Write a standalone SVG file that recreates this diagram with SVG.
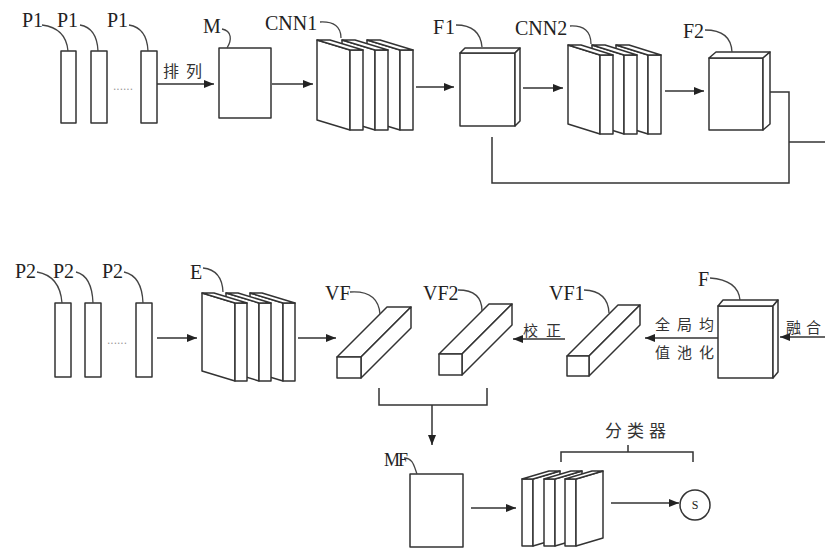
<svg xmlns="http://www.w3.org/2000/svg" width="825" height="551" viewBox="0 0 825 551">
<defs>
<marker id="ah" markerWidth="10" markerHeight="8" refX="10" refY="4" orient="auto" markerUnits="userSpaceOnUse">
<path d="M0,0 L10,4 L0,8 z" fill="#222"/>
</marker>
<style>
.s{fill:#fff;stroke:#333;stroke-width:1.5;stroke-linejoin:round}
.c{fill:none;stroke:#333;stroke-width:1.5}
.a{fill:none;stroke:#333;stroke-width:1.5;marker-end:url(#ah)}
.ld{fill:none;stroke:#444;stroke-width:1.3}
.t{font-family:"Liberation Serif","DejaVu Serif",serif;font-size:20px;fill:#222}
.z{font-family:"Liberation Serif","Noto Sans CJK SC",serif;font-size:15px;fill:#333}
.d{font-family:"Liberation Sans",sans-serif;font-size:12px;fill:#999}
</style>
</defs>
<rect width="825" height="551" fill="#fff"/>

<g id="connectors">
<path class="a" d="M157,84 H214"/>
<path class="a" d="M272,84 H313"/>
<path class="a" d="M416,87 H454"/>
<path class="a" d="M523,88 H563"/>
<path class="a" d="M665,91 H704"/>
<path class="c" d="M770,92 H789 V183 H492 V137"/>
<path class="c" d="M789,142 H825"/>
<path class="a" d="M157,338 H197"/>
<path class="a" d="M298,338 H336"/>
<path class="a" d="M565,339 H513"/>
<path class="a" d="M718,338 H645"/>
<path class="a" d="M825,337 H780"/>
<path class="c" d="M379,388 V405 H487 V388"/>
<path class="a" d="M432,405 V445"/>
<path class="a" d="M471,508 H516"/>
<path class="a" d="M611,503 H679"/>
<path class="c" d="M561,462 V452 H693 V462 M628,452 V445"/>
</g>

<g id="P1a"><rect class="s" x="61" y="51" width="15" height="72"/><text class="t" x="22" y="27">P1</text><path class="ld" d="M42,25 Q66,28 68,51"/></g>
<g id="P1b"><rect class="s" x="91" y="51" width="16" height="72"/><text class="t" x="57" y="27">P1</text><path class="ld" d="M80,25 Q97,28 98,51"/></g>
<g id="P1c"><rect class="s" x="141" y="51" width="16" height="72"/><text class="t" x="107" y="27">P1</text><path class="ld" d="M129,25 Q147,28 148,51"/></g>
<text class="d" x="113" y="90">......</text>
<text class="z" x="163" y="77" style="font-size:16px;letter-spacing:7px">排列</text>

<g id="M"><rect class="s" x="219" y="48" width="52" height="70"/><text class="t" x="203" y="33">M</text><path class="ld" d="M222,29 C232,31 232,40 227,48"/></g>

<g id="CNN1">
<polygon class="s" points="367,40 400,50 400,130 367,120"/><rect class="s" x="400" y="50" width="13" height="80"/><polygon class="s" points="367,40 380,40 413,50 400,50"/>
<polygon class="s" points="342,40 375,50 375,130 342,120"/><rect class="s" x="375" y="50" width="13" height="80"/><polygon class="s" points="342,40 355,40 388,50 375,50"/>
<polygon class="s" points="317,40 350,50 350,130 317,120"/><rect class="s" x="350" y="50" width="13" height="80"/><polygon class="s" points="317,40 330,40 363,50 350,50"/>
<text class="t" x="265" y="30">CNN1</text><path class="ld" d="M320,22 Q341,21 341,38"/>
</g>

<g id="F1">
<rect class="s" x="460" y="53" width="55" height="73"/><polygon class="s" points="460,53 465,48 520,48 515,53"/><polygon class="s" points="515,53 520,48 520,121 515,126"/>
<text class="t" x="433" y="34" style="letter-spacing:1px">F1</text><path class="ld" d="M456,25 Q480,25 482,47"/>
</g>

<g id="CNN2">
<polygon class="s" points="616,45 648,55 648,134 616,124"/><rect class="s" x="648" y="55" width="13" height="79"/><polygon class="s" points="616,45 629,45 661,55 648,55"/>
<polygon class="s" points="592,45 624,55 624,134 592,124"/><rect class="s" x="624" y="55" width="13" height="79"/><polygon class="s" points="592,45 605,45 637,55 624,55"/>
<polygon class="s" points="568,45 600,55 600,134 568,124"/><rect class="s" x="600" y="55" width="13" height="79"/><polygon class="s" points="568,45 581,45 613,55 600,55"/>
<text class="t" x="515" y="35">CNN2</text><path class="ld" d="M570,26 Q591,25 591,44"/>
</g>

<g id="F2">
<rect class="s" x="709" y="58" width="54" height="72"/><polygon class="s" points="709,58 716,52 770,52 763,58"/><polygon class="s" points="763,58 770,52 770,124 763,130"/>
<text class="t" x="683" y="38">F2</text><path class="ld" d="M705,30 Q731,30 732,52"/>
</g>

<g id="P2a"><rect class="s" x="55" y="303" width="16" height="74"/><text class="t" x="15" y="278">P2</text><path class="ld" d="M37,272 Q60,276 62,303"/></g>
<g id="P2b"><rect class="s" x="85" y="303" width="16" height="74"/><text class="t" x="53" y="278">P2</text><path class="ld" d="M76,272 Q92,276 93,303"/></g>
<g id="P2c"><rect class="s" x="136" y="303" width="16" height="74"/><text class="t" x="102" y="278">P2</text><path class="ld" d="M124,272 Q142,276 143,303"/></g>
<text class="d" x="107" y="344">......</text>

<g id="E">
<polygon class="s" points="250,293 283,303 283,381 250,371"/><rect class="s" x="283" y="303" width="12" height="78"/><polygon class="s" points="250,293 262,293 295,303 283,303"/>
<polygon class="s" points="226,293 259,303 259,381 226,371"/><rect class="s" x="259" y="303" width="12" height="78"/><polygon class="s" points="226,293 238,293 271,303 259,303"/>
<polygon class="s" points="202,293 235,303 235,381 202,371"/><rect class="s" x="235" y="303" width="12" height="78"/><polygon class="s" points="202,293 214,293 247,303 235,303"/>
<text class="t" x="190" y="279">E</text><path class="ld" d="M203,268 Q222,270 223,292"/>
</g>

<g id="VF">
<polygon class="s" points="337,357 361,357 411,307 387,307"/><polygon class="s" points="361,357 411,307 411,328 361,378"/><rect class="s" x="337" y="357" width="24" height="21"/>
<text class="t" x="325" y="300">VF</text><path class="ld" d="M350,292 Q378,290 380,314"/>
</g>

<g id="VF2">
<polygon class="s" points="439,354 462,354 512,304 489,304"/><polygon class="s" points="462,354 512,304 512,325 462,375"/><rect class="s" x="439" y="354" width="23" height="21"/>
<text class="t" x="423" y="300">VF2</text><path class="ld" d="M458,290 Q482,290 482,311"/>
</g>
<text class="z" x="523" y="336" style="letter-spacing:8px">校正</text>

<g id="VF1">
<polygon class="s" points="567,356 589,356 640,305 618,305"/><polygon class="s" points="589,356 640,305 640,325 589,376"/><rect class="s" x="567" y="356" width="22" height="20"/>
<text class="t" x="549" y="300">VF1</text><path class="ld" d="M584,290 Q608,291 609,313"/>
</g>
<text class="z" x="655" y="330" style="letter-spacing:7px">全局均</text>
<text class="z" x="655" y="358" style="letter-spacing:7px">值池化</text>

<g id="F">
<rect class="s" x="718" y="306" width="55" height="72"/><polygon class="s" points="718,306 723,300 778,300 773,306"/><polygon class="s" points="773,306 778,300 778,372 773,378"/>
<text class="t" x="698" y="286">F</text><path class="ld" d="M710,278 Q738,280 740,300"/>
</g>
<text class="z" x="786" y="333" style="letter-spacing:5px">融合</text>

<g id="MF">
<rect class="s" x="410" y="474" width="53" height="73"/>
<text class="t" x="384" y="466" style="font-size:18px;letter-spacing:-2px">MF</text><path class="ld" d="M404,458 C413,458 414,466 417,474"/>
</g>

<g id="classifier">
<rect class="s" x="522" y="479" width="11" height="67"/><polygon class="s" points="533,479 560,471 560,538 533,546"/><polygon class="s" points="522,479 549,471 560,471 533,479"/>
<rect class="s" x="544" y="479" width="11" height="67"/><polygon class="s" points="555,479 582,471 582,538 555,546"/><polygon class="s" points="544,479 571,471 582,471 555,479"/>
<rect class="s" x="565" y="479" width="11" height="67"/><polygon class="s" points="576,479 603,471 603,538 576,546"/><polygon class="s" points="565,479 592,471 603,471 576,479"/>
<text class="z" x="605" y="437" style="font-size:17px;letter-spacing:5px">分类器</text>
</g>

<g id="S">
<circle class="s" cx="695" cy="505" r="15"/>
<text class="t" x="695" y="509" text-anchor="middle" style="font-size:12px">S</text>
</g>
</svg>
